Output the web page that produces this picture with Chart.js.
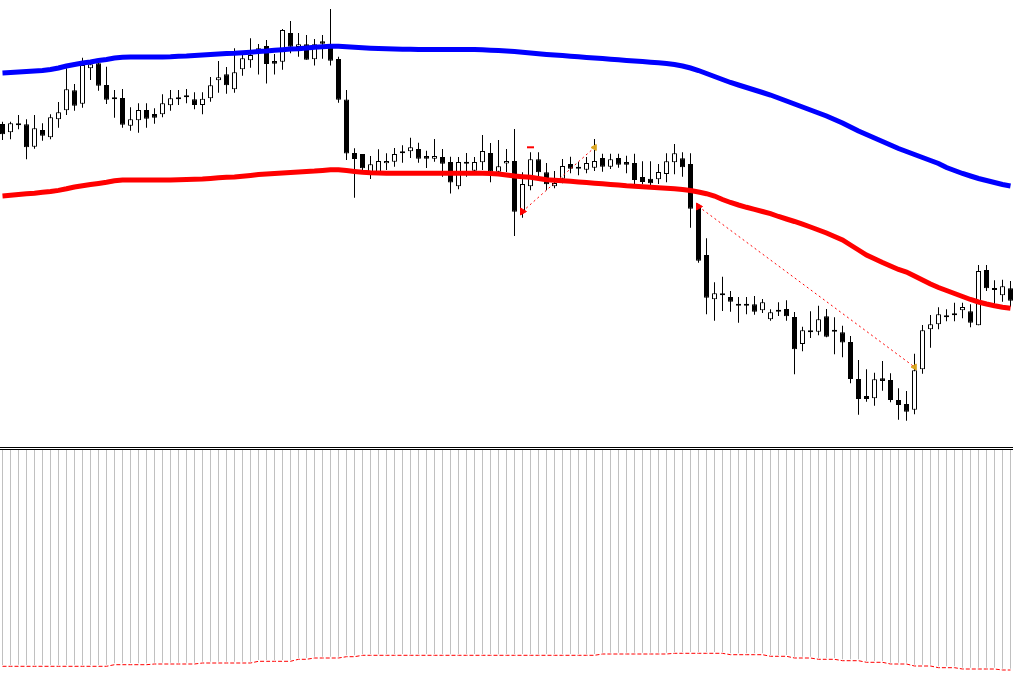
<!DOCTYPE html>
<html>
<head>
<meta charset="utf-8">
<script src="https://cdn.jsdelivr.net/npm/chart.js@4.4.1/dist/chart.umd.min.js"></script>
<style>
  html, body { margin: 0; padding: 0; background: #fff; overflow: hidden; }
  #wrap { position: relative; width: 1013px; height: 677px; background: #fff; }
  #priceChart { position: absolute; left: 0; top: 0; }
  #divider { position: absolute; left: 0; top: 447px; width: 1013px; height: 1px; border-top: 1px solid #000; border-bottom: 1px solid #000; }
  #volChart { position: absolute; left: 0; top: 450px; }
</style>
</head>
<body>
<div id="wrap">
  <canvas id="priceChart" width="1013" height="446"></canvas>
  <div id="divider"></div>
  <canvas id="volChart" width="1013" height="227"></canvas>
</div>
<script>
// price in points, one entry per bar (oldest first)
const opens = [326,317.7,324.7,325.7,303.3,320,312.7,330.7,339.7,359.7,346.3,381.7,386.7,365,350.7,352,324.3,329.7,340,336,
  335.7,344.7,350.7,352.7,350.7,345,351.7,369.7,375.7,360.7,380.7,389.7,399,404,389,388.3,417,403,405.7,390.7,
  408.7,403.5,391,350.5,297,296,275.5,278,286.7,288.3,298.3,298.7,301,294,291.3,293,288,263.7,286.3,279.3,
  287.7,297,278.3,286.5,289,238.3,263.7,290.7,277.7,263.7,271.3,286,281.3,280.3,282.3,292,283.3,292,288,287,
  273,271.3,270.7,276,287.7,291.7,286,243.3,195,150.7,154.7,153,144.3,144.3,145.7,139.7,130.7,139.7,141,133,
  106,117.7,118.3,133.7,118.3,117.7,108,71,54,51.7,71.7,70,50,46,40.3,80.7,120.7,125.7,132.7,134.7,
  139.7,138.7,124.7,180,160,154.7,161.7];
const highs = [328.3,328.3,335,330.7,335,326.7,335.7,348,381.7,366,392.3,390,390,383.3,360,361,342.7,346.7,346.7,341.7,
  355.7,360,360,361,357.7,357.7,373,389,383,401.7,399,411.7,406,410,396,421,429,417,415,411,
  415,441,393.3,360,301.7,296,294,300.7,296.7,302,304.7,312.3,307.3,299.3,311,301,293.3,293,297,293,
  315,307,310,301,321,277.7,297.7,297.7,287,279,291,293.3,288.3,293,311,296.3,296.3,296.3,294.3,296.3,
  288.7,288.7,286,296.7,306,297.7,296.7,245.7,211.7,167.7,173.3,159,153,153,154,151,140.7,147.7,149.7,138,
  123.3,138.7,144.3,141,132.7,124.3,114,90,80.7,77.3,89,76.7,61.7,59,96.3,125,135,142.7,140.7,147.3,
  147.3,145.7,185,185,169.7,170.3,169];
const lows = [310,310.7,320.7,290.7,301.3,309.3,310.7,322.3,335,339.3,342.3,370,359.3,346,332.3,322.3,319.3,317.3,322.3,326.3,
  332.7,339.3,345,346.7,340.7,335.7,348.3,357.3,356.3,357.3,374.3,382.3,375.5,366.5,375.5,380.3,396.7,393.3,390.3,384.5,
  391.3,384.5,347.3,290,252.3,279.3,271,276,280,283.3,287.3,292,287.3,282,288.3,273.3,256.5,260.7,273.3,276.3,
  280,267.7,276,278,214,232.3,259.7,273.3,259.7,261.7,266.7,276.7,274.7,276.7,279,278.3,281,282.3,276.7,265.7,
  265.7,264.3,266,267.7,275.7,273.3,222.3,187.3,135.7,129.3,139,138.3,127.3,135.7,135.3,137,129.3,134,129.3,75.7,
  98.7,112,114.7,112.7,95.7,92.7,66.7,35.3,48.3,44.3,59.3,47.7,30.3,29.3,35.7,76.3,102.3,120.7,128.7,128.7,
  131.7,122.7,124.7,159,146,148.3,143.3];
const closes = [315.7,326.7,324.7,302.7,321.7,314.3,332.7,337.7,360.7,344.3,385,385.7,364.3,350.3,350.7,325.3,330.7,340,331.3,332.3,
  346.7,351.7,352.7,352.7,345,351.3,364.7,372.7,364.7,377.7,391.7,395,401.7,386,386.3,420,403.3,405.7,390.3,405.7,
  406.3,389.3,350.3,296.5,291,281.7,285.7,289,289,296,296.7,302.7,291.3,291.3,294,286.3,267.5,288,286.3,288,
  299,278.3,283.7,289,238.3,266,290.7,277.7,265.7,267,284,281.3,281.3,287,289,283.3,290.7,285.3,285.3,270,
  268,266.7,278,288.7,296.7,282.7,241.3,189.3,152.3,156.7,154.7,148.3,144.3,144.3,138.3,147.7,137.7,138.3,133.7,100.7,
  119.7,117.7,130.7,113.3,118.3,107.5,71,51,51,70.7,69,50,45,38.3,79.7,119.7,125.7,135.7,134.7,134.7,
  143,127.3,179,161.7,160,163.7,149.3];

// slow moving average (blue) and fast moving average (red)
const maSlow = [377,377.5,378,378.5,379,379.5,380.5,382,384,385.5,387,388,389.5,390.5,392,392.7,393,393,393,393,
  393,393.2,393.7,394,394.5,395,395.5,396,396.5,396.7,397.2,397.8,398.5,399,399.7,400.3,401,401.3,402,402.7,
  403.2,403.7,403.7,403.2,402.7,402.2,401.8,401.5,401.2,401,400.8,400.7,400.6,400.5,400.5,400.5,400.5,400.5,400.5,400.4,
  400.2,399.8,399.4,399,398.4,397.7,397,396.3,395.6,395,394.4,393.8,393.2,392.6,392,391.4,390.8,390.2,389.6,389,
  388.4,387.8,387.2,386.5,385.5,384,382,379.5,376.5,373.5,370.5,367.5,365,362.5,360,357.5,355,352,349,346,
  343,340,337,334,330.5,327,323,319,315.5,312,308.5,305,301.5,298.5,295.5,292.5,289.5,286.5,282.5,279.5,
  276.5,274,271.5,269.5,267.5,265.5,264];
const maFast = [254,254.7,255.4,256.2,256.8,257.7,258.5,259.6,261.2,263,264.2,265.5,266.6,267.8,269.2,269.9,270,270,270,270,
  270,270,270.2,270.5,270.8,271.1,271.6,272.2,272.7,273.1,273.8,274.6,275.4,276,276.5,277,277.5,278,278.4,278.9,
  279.6,280.3,280.2,279.4,278.5,277.7,277.2,276.9,276.7,276.7,276.7,276.7,276.7,276.7,276.7,276.7,276.7,276.7,276.7,276.7,
  276.7,276.5,276,275,274,273.3,272.7,271.5,270.2,269.7,269.3,268.7,268,267.4,266.8,266.2,265.5,264.9,264.2,263.7,
  263.2,262.8,262.3,261.8,261.2,260.5,259.5,258,256.3,254,250.5,247.5,245,242.7,240.7,238.5,236.3,233.5,231,228.5,
  225.8,223,220,217,213.5,210,205,200,195,191.3,187.5,184,180.5,178,174,170,166,162.5,159.5,156.5,
  153.5,150.5,148,146,144.3,142.8,141.7];

// zigzag swings: bar index and price
const zigzagUpBars = [65, 74];
const zigzagUpVals = [238.5, 302.5];
const zigzagDownBars = [87, 114];
const zigzagDownVals = [243.5, 83];
const signalMarkBar = 66;
const signalMarkVal = 302.7;

// lower window: histogram level and its dotted signal line
const volBars = [12,12,12.3,12,12,12.3,12,12,12,12.3,12,12,12,12.3,13.7,13.7,14,13.7,13.7,14.3,
  14.3,14.3,14.3,14.3,14.3,15.3,15.3,15.3,15.3,15.3,15.3,15.3,17,17,17,17,17,19,19,20.3,
  20.3,20.3,20.3,21.7,21.7,23,23,22.7,23,23,23,22.7,23,23,23,23,22.7,23,23,23,
  23,23,22.7,23,23,23,23,22.7,23,23,23,23,23,22.7,23,24.3,24.3,24.3,24.3,24.3,
  24.3,24.3,24.3,24.3,25,25,25,25,25,25,25,23.7,23.7,23.7,23.7,23.7,22,22,22,20.3,
  20.3,20.3,19,19,19,17.7,17.7,17.7,16,16,16,14.3,14.3,14.3,12.3,12.3,12.3,10.7,10.7,10.7,
  9.3,9.3,9.3,9.3,9.3,8.3,8.3];
const volSignal = [10.7,10.7,10.7,10.7,10.7,10.7,10.7,10.7,10.7,10.7,10.7,10.7,10.7,10.7,12.3,12.3,12.3,12.3,12.3,13,
  13,13,13,13,13,14,14,14,14,14,14,14,15.7,15.7,15.7,15.7,15.7,17.7,17.7,19,
  19,19,19,20.3,20.3,21.7,21.7,21.7,21.7,21.7,21.7,21.7,21.7,21.7,21.7,21.7,21.7,21.7,21.7,21.7,
  21.7,21.7,21.7,21.7,21.7,21.7,21.7,21.7,21.7,21.7,21.7,21.7,21.7,21.7,21.7,23,23,23,23,23,
  23,23,23,23,23.7,23.7,23.7,23.7,23.7,23.7,23.7,22.3,22.3,22.3,22.3,22.3,20.7,20.7,20.7,19,
  19,19,17.7,17.7,17.7,16.3,16.3,16.3,14.7,14.7,14.7,13,13,13,11,11,11,9.3,9.3,9.3,
  8,8,8,8,8,7,7];

const idx = opens.map((_, i) => i);
const xScale = { type: 'linear', display: false, offset: false, bounds: 'data', min: -0.3125, max: 126.3125 };
const baseOptions = {
    responsive: false,
    animation: false,
    events: [],
    layout: { padding: 0, autoPadding: false },
    plugins: { legend: { display: false }, tooltip: { enabled: false } },
};

const pts = (xs, ys) => xs.map((x, i) => ({ x: x, y: ys[i] }));

new Chart(document.getElementById('priceChart'), {
    type: 'bar',
    data: {
        datasets: [
            {
                type: 'bar',
                data: idx.map(i => ({ x: i, y: [lows[i], highs[i]] })),
                backgroundColor: '#000000',
                borderWidth: 0,
                barThickness: 1,
                grouped: false,
                inflateAmount: 0,
                order: 6
            },
            {
                type: 'bar',
                data: idx.map(i => ({ x: i, y: [opens[i], closes[i]] })),
                backgroundColor: (c) => closes[c.dataIndex] >= opens[c.dataIndex] ? '#ffffff' : '#000000',
                borderColor: '#000000',
                borderWidth: 1,
                borderSkipped: false,
                barThickness: 5,
                minBarLength: 2,
                grouped: false,
                inflateAmount: 0,
                order: 5
            },
            {
                type: 'line',
                data: pts(idx, maFast),
                borderColor: '#ff0000',
                borderWidth: 5,
                pointRadius: 0,
                tension: 0,
                order: 4
            },
            {
                type: 'line',
                data: pts(idx, maSlow),
                borderColor: '#0000ff',
                borderWidth: 5,
                pointRadius: 0,
                tension: 0,
                order: 3
            },
            {
                type: 'line',
                data: pts(zigzagUpBars, zigzagUpVals),
                borderColor: '#ff0000',
                borderWidth: 1,
                borderDash: [2, 3],
                pointStyle: 'triangle',
                rotation: [90, -90],
                pointRadius: [4, 3.5],
                pointBackgroundColor: ['#ff0000', '#daa520'],
                pointBorderColor: ['#ff0000', '#daa520'],
                order: 2
            },
            {
                type: 'line',
                data: pts(zigzagDownBars, zigzagDownVals),
                borderColor: '#ff0000',
                borderWidth: 1,
                borderDash: [2, 3],
                pointStyle: 'triangle',
                rotation: [90, -90],
                pointRadius: [4, 3.5],
                pointBackgroundColor: ['#ff0000', '#daa520'],
                pointBorderColor: ['#ff0000', '#daa520'],
                order: 2
            },
            {
                type: 'line',
                data: [{ x: signalMarkBar, y: signalMarkVal }],
                showLine: false,
                pointStyle: 'line',
                pointRadius: 3.5,
                pointBorderWidth: 2,
                pointBorderColor: '#ff0000',
                order: 1
            }
        ]
    },
    options: {
        ...baseOptions,
        scales: {
            x: xScale,
            y: { display: false, min: 4, max: 450 }
        }
    }
});

new Chart(document.getElementById('volChart'), {
    type: 'bar',
    data: {
        datasets: [
            {
                type: 'bar',
                data: idx.map(i => ({ x: i, y: [volBars[i], 227] })),
                backgroundColor: '#c0c0c0',
                borderWidth: 0,
                barThickness: 1,
                grouped: false,
                inflateAmount: 0,
                order: 2
            },
            {
                type: 'line',
                data: pts(idx, volSignal),
                borderColor: '#ff0000',
                borderWidth: 1,
                borderDash: [4, 2],
                pointRadius: 0,
                tension: 0,
                order: 1
            }
        ]
    },
    options: {
        ...baseOptions,
        scales: {
            x: xScale,
            y: { display: false, min: 0, max: 227 }
        }
    }
});
</script>
</body>
</html>
